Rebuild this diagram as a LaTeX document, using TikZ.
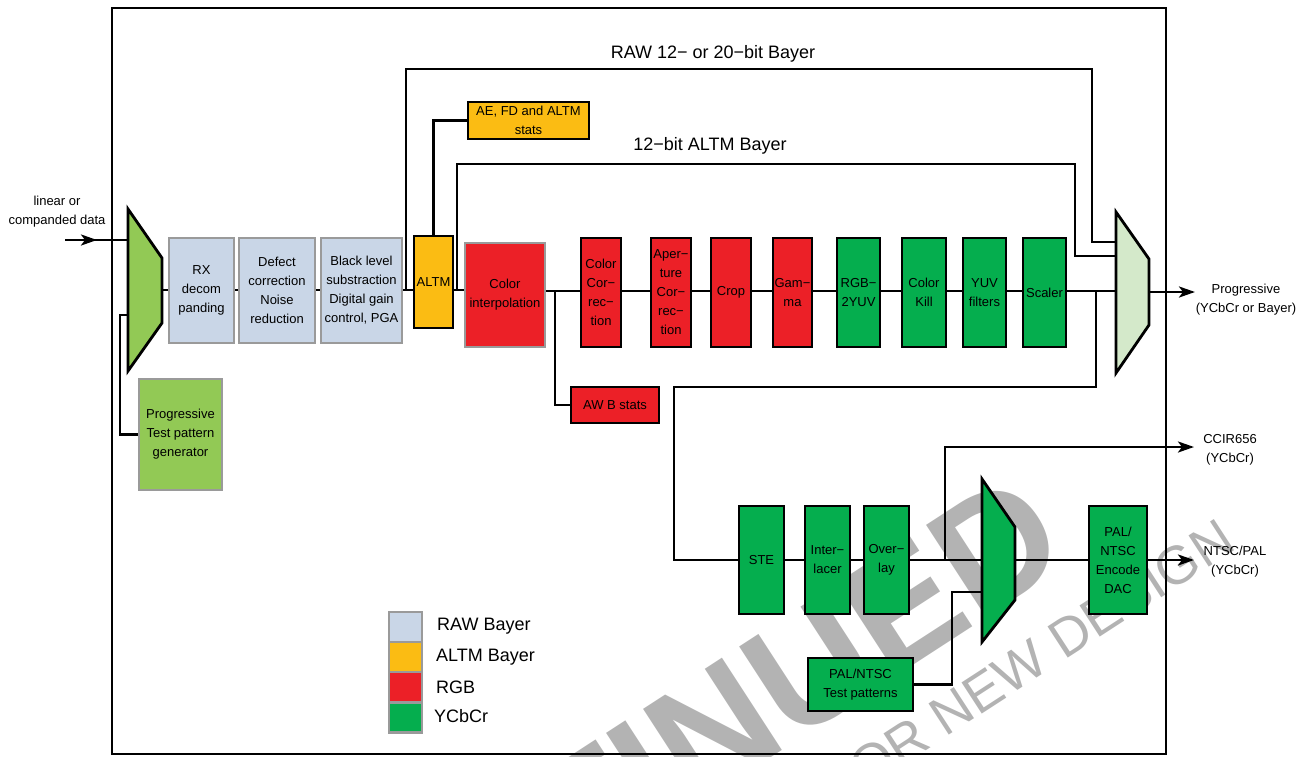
\documentclass[tikz,border=0pt]{standalone}
\usepackage{fontspec}
\setmainfont{Liberation Sans}
\usetikzlibrary{arrows.meta}
\definecolor{rawc}{HTML}{C9D6E7}
\definecolor{altmc}{HTML}{FBBC13}
\definecolor{rgbc}{HTML}{EC2027}
\definecolor{ycc}{HTML}{05AE4E}
\definecolor{lgreen}{HTML}{92C955}
\definecolor{pgreen}{HTML}{D4E9CA}
\definecolor{bord}{HTML}{9A9A9A}
\definecolor{wmc}{HTML}{B3B3B3}
\newcommand{\mybox}[7]{\node[#6, minimum width={#4-#2}, minimum height={#5-#3}] (#1) at ({(#2+#4)/2},{(#3+#5)/2}) {#7};}
\begin{document}
\begin{tikzpicture}[x=1pt,y=-1pt,
  box/.style={draw=black,line width=2.8pt,inner sep=0pt,align=center,font=\fontsize{13}{19}\selectfont},
  gbox/.style={box,draw=bord},
  wire/.style={line width=2.6pt},
  arr/.style={wire,-{Stealth[length=16pt,width=11pt,inset=4pt]}},
  mux/.style={draw=black,line width=2.8pt,line join=miter},
  lbl/.style={align=center,inner sep=0pt,font=\fontsize{13}{19}\selectfont},
  big/.style={inner sep=0pt,font=\fontsize{18}{22}\selectfont},
  lsq/.style={draw=bord,line width=2.2pt,minimum width=33pt,minimum height=30pt,inner sep=0pt},
  leg/.style={anchor=west,inner sep=0pt,font=\fontsize{18}{22}\selectfont},
  wm/.style={text=wmc,inner sep=0pt}
]
\useasboundingbox (0,0) rectangle (1307,756);
% watermark
\begin{scope}
\clip (0,0) rectangle (1307,756);
\node[wm,font=\fontsize{160}{160}\selectfont\bfseries,rotate=33,anchor=base east] (wm1) at (1075,560) {DISCONTINUED};
\node[wm,font=\fontsize{54}{54}\selectfont,rotate=33,anchor=base east] (wm2) at (1238,548) {FOR NEW DESIGN};
\end{scope}
% frame
\draw[line width=2.6pt] (112,8) rectangle (1166,754);

% muxes
\draw[mux,fill=lgreen] (128,209) -- (162,258) -- (162,323) -- (128,371) -- cycle;
\draw[mux,fill=pgreen] (1116,212) -- (1149,259) -- (1149,325) -- (1116,373) -- cycle;
\draw[mux,fill=ycc] (982,479) -- (1015,527) -- (1015,600) -- (982,642) -- cycle;
\coordinate (m1in) at (128,240);
\coordinate (m1tp) at (128,315);
\coordinate (m1out) at (162,290);
\coordinate (m2raw) at (1116,242);
\coordinate (m2alt) at (1116,256);
\coordinate (m2in) at (1116,291);
\coordinate (m2out) at (1149,292);
\coordinate (m3in) at (982,560);
\coordinate (m3tp) at (982,592);
\coordinate (m3out) at (1015,560);

% boxes
\mybox{rx}{169}{238}{234}{343}{gbox,fill=rawc}{RX\\decom\\panding}
\mybox{dc}{239}{238}{315}{343}{gbox,fill=rawc}{Defect\\correction\\Noise\\reduction}
\mybox{bl}{321}{238}{402}{343}{gbox,fill=rawc}{Black level\\substraction\\Digital gain\\control, PGA}
\mybox{tp}{139}{379}{222}{490}{gbox,fill=lgreen}{Progressive\\Test pattern\\generator}
\mybox{altm}{414}{236}{453}{328}{box,fill=altmc}{ALTM}
\mybox{stats}{468}{102}{589}{139}{box,fill=altmc}{AE, FD and ALTM\\stats}
\mybox{ci}{465}{243}{545}{347}{gbox,fill=rgbc}{Color\\interpolation}
\mybox{awb}{571}{387}{659}{423}{box,fill=rgbc}{AW B stats}
\mybox{cc}{581}{238}{621}{347}{box,fill=rgbc}{Color\\Cor−\\rec−\\tion}
\mybox{ap}{651}{238}{691}{347}{box,fill=rgbc}{Aper−\\ture\\Cor−\\rec−\\tion}
\mybox{crop}{711}{238}{751}{347}{box,fill=rgbc}{Crop}
\mybox{gam}{773}{238}{812}{347}{box,fill=rgbc}{Gam−\\ma}
\mybox{rgb}{837}{238}{880}{347}{box,fill=ycc}{RGB−\\2YUV}
\mybox{ck}{902}{238}{946}{347}{box,fill=ycc}{Color\\Kill}
\mybox{yuv}{963}{238}{1006}{347}{box,fill=ycc}{YUV\\filters}
\mybox{sc}{1023}{238}{1066}{347}{box,fill=ycc}{Scaler}
\mybox{ste}{739}{506}{784}{614}{box,fill=ycc}{STE}
\mybox{il}{805}{506}{850}{614}{box,fill=ycc}{Inter−\\lacer}
\mybox{ov}{864}{506}{909}{614}{box,fill=ycc}{Over−\\lay}
\mybox{enc}{1089}{506}{1147}{614}{box,fill=ycc}{PAL/\\NTSC\\Encode\\DAC}
\mybox{tpn}{808}{658}{913}{711}{box,fill=ycc}{PAL/NTSC\\Test patterns}

% labels
\node[lbl] (inlbl) at (57,212) {linear or\\companded data};
\node[big] (rawlbl) at (713,54) {RAW 12− or 20−bit Bayer};
\node[big] (altlbl) at (710,146) {12−bit ALTM Bayer};
\node[lbl] (prog) at (1246,300) {Progressive\\(YCbCr or Bayer)};
\node[lbl] (ccir) at (1230,450) {CCIR656\\(YCbCr)};
\node[lbl] (ntsc) at (1235,562) {NTSC/PAL\\(YCbCr)};

% legend
\node[lsq,fill=rawc] (lg1) at (405.5,627) {};
\node[lsq,fill=altmc] (lg2) at (405.5,657) {};
\node[lsq,fill=rgbc] (lg3) at (405.5,687) {};
\node[lsq,fill=ycc] (lg4) at (405.5,717.5) {};
\node[leg] (lt1) at (437,626) {RAW Bayer};
\node[leg] (lt2) at (436,657) {ALTM Bayer};
\node[leg] (lt3) at (436,687) {RGB};
\node[leg] (lt4) at (434,716) {YCbCr};

% connectors
\coordinate (in) at (65,240);
\coordinate (inarr) at (97,240);
\draw[wire] (in) -- (m1in);
\draw[arr] (in) -- (inarr);
\draw[wire] (m1out) -- (m1out -| rx.west);
\draw[wire] (rx.east |- m1out) -- (m1out -| dc.west);
\draw[wire] (dc.east |- m1out) -- (m1out -| bl.west);
\draw[wire] (bl.east |- m1out) -- (m1out -| altm.west);
\draw[wire] (altm.east |- m1out) -- (m1out -| ci.west);
\draw[wire] (tp.west) -| (120,315) -- (m1tp);
\coordinate (rawx) at (406,290);
\coordinate (rawtop) at (1092,69);
\draw[wire] (rawx) |- (rawtop) |- (m2raw);
\coordinate (altx) at (457,290);
\coordinate (alttop) at (1075,164);
\draw[wire] (altx) |- (alttop) |- (m2alt);
\draw[wire] (altm.north) |- (stats.west);
\coordinate (r2) at (0,291);
\draw[wire] (ci.east |- r2) -- (r2 -| cc.west);
\draw[wire] (cc.east |- r2) -- (r2 -| ap.west);
\draw[wire] (ap.east |- r2) -- (r2 -| crop.west);
\draw[wire] (crop.east |- r2) -- (r2 -| gam.west);
\draw[wire] (gam.east |- r2) -- (r2 -| rgb.west);
\draw[wire] (rgb.east |- r2) -- (r2 -| ck.west);
\draw[wire] (ck.east |- r2) -- (r2 -| yuv.west);
\draw[wire] (yuv.east |- r2) -- (r2 -| sc.west);
\draw[wire] (sc.east |- r2) -- (m2in);
\coordinate (awbj) at (555,291);
\draw[wire] (awbj) |- (awb.west);
\coordinate (progout) at (1195,292);
\draw[arr] (m2out) -- (progout);
\coordinate (brj) at (1096,291);
\coordinate (brl) at (674,387);
\draw[wire] (brj) |- (brl) |- (ste.west);
\draw[wire] (ste.east) -- (il.west);
\draw[wire] (il.east) -- (ov.west);
\draw[wire] (ov.east) -- (m3in);
\coordinate (ccj) at (945,560);
\coordinate (ccout) at (1194,447);
\draw[arr] (ccj) |- (ccout);
\draw[wire] (m3out) -- (enc.west);
\coordinate (ntout) at (1194,560);
\draw[arr] (enc.east) -- (ntout);
\coordinate (tpj) at (952,592);
\draw[wire] (tpn.east) -| (tpj) -- (m3tp);
\end{tikzpicture}
\end{document}
